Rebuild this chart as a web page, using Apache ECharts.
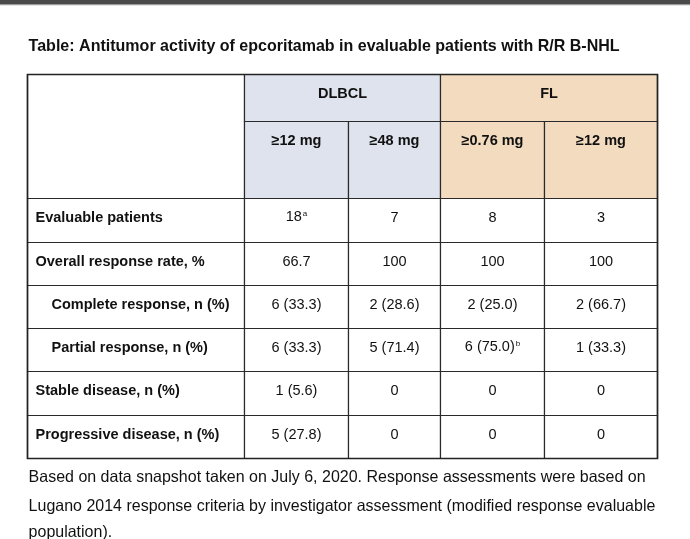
<!DOCTYPE html>
<html>
<head>
<meta charset="utf-8">
<script src="https://cdn.jsdelivr.net/npm/echarts@6/dist/echarts.min.js"></script>
<style>html,body{margin:0;padding:0;background:#fff}#c{width:690px;height:539px}</style>
</head>
<body>
<div id="c"></div>
<script>
// ---- data ----
const titleText = 'Table: Antitumor activity of epcoritamab in evaluable patients with R/R B-NHL';
const groupLabels = ['DLBCL', 'FL'];
const doseLabels = ['≥12 mg', '≥48 mg', '≥0.76 mg', '≥12 mg'];
const rowLabels = ['Evaluable patients', 'Overall response rate, %', 'Complete response, n (%)', 'Partial response, n (%)', 'Stable disease, n (%)', 'Progressive disease, n (%)'];
const rowIndented = [false, false, true, true, false, false];
const dlbcl12mg = ['18', '66.7', '6 (33.3)', '6 (33.3)', '1 (5.6)', '5 (27.8)'];
const dlbcl48mg = ['7', '100', '2 (28.6)', '5 (71.4)', '0', '0'];
const fl076mg = ['8', '100', '2 (25.0)', '6 (75.0)', '0', '0'];
const fl12mg = ['3', '100', '2 (66.7)', '1 (33.3)', '0', '0'];
const dlbcl12mgNotes = ['a', '', '', '', '', ''];
const dlbcl48mgNotes = ['', '', '', '', '', ''];
const fl076mgNotes = ['', '', '', 'b', '', ''];
const fl12mgNotes = ['', '', '', '', '', ''];
const footnoteLines = [
  'Based on data snapshot taken on July 6, 2020. Response assessments were based on',
  'Lugano 2014 response criteria by investigator assessment (modified response evaluable',
  'population).'
];

// ---- layout (px units of the table) ----
const colEdges = [0, 217, 320.5, 413, 516.5, 630];
const rowEdges = [0, 47, 123.5, 168, 211, 254, 297, 341, 384];
const groupFill = ['#dfe3ed', '#f3dbbf'];
const FONT = '"Liberation Sans", Arial, sans-serif';

const valueCols = [dlbcl12mg, dlbcl48mg, fl076mg, fl12mg];
const noteCols = [dlbcl12mgNotes, dlbcl48mgNotes, fl076mgNotes, fl12mgNotes];

// cells: [c0, c1, r0, r1, kind, text, note, group]
const cells = [];
cells.push([0, 1, 0, 2, 'blank', '', '', -1]);
groupLabels.forEach((g, i) => cells.push([1 + 2 * i, 3 + 2 * i, 0, 1, 'head', g, '', i]));
doseLabels.forEach((d, i) => cells.push([1 + i, 2 + i, 1, 2, 'head', d, '', i < 2 ? 0 : 1]));
rowLabels.forEach((lab, r) => {
  cells.push([0, 1, 2 + r, 3 + r, rowIndented[r] ? 'labelIndent' : 'label', lab, '', -1]);
  valueCols.forEach((col, c) => cells.push([1 + c, 2 + c, 2 + r, 3 + r, 'value', col[r], noteCols[c][r], -1]));
});

function fitScale(str, font, target) {
  const ctx = document.createElement('canvas').getContext('2d');
  ctx.font = font;
  return target / ctx.measureText(str).width;
}
const titleFont = 'bold 16.5px ' + FONT;
const footFont = '16.5px ' + FONT;
const titleScale = fitScale(titleText, titleFont, 591);
const footScale = fitScale(footnoteLines[0], footFont, 617);

const chart = echarts.init(document.getElementById('c'), null, {renderer: 'canvas'});
chart.setOption({
  backgroundColor: '#ffffff',
  animation: false,
  grid: {left: 27.3, top: 74, width: 630, height: 384},
  xAxis: {type: 'value', min: 0, max: 630, show: false},
  yAxis: {type: 'value', min: 0, max: 384, inverse: true, show: false},
  graphic: [
    {type: 'rect', shape: {x: 0, y: 0, width: 690, height: 4}, style: {fill: '#4a4a4a'}},
    {type: 'rect', shape: {x: 0, y: 4, width: 690, height: 1.2}, style: {fill: '#9a9a9a'}},
    {type: 'text', x: 28.6, y: 46.7, scaleX: titleScale,
      style: {text: titleText, font: titleFont, fill: '#111', verticalAlign: 'middle'}},
    ...footnoteLines.map((t, i) => ({type: 'text', x: 28.6, y: [477, 506, 532][i], scaleX: footScale,
      style: {text: t, font: footFont, fill: '#111', verticalAlign: 'middle'}}))
  ],
  series: [{
    type: 'custom',
    coordinateSystem: 'cartesian2d',
    data: cells.map(c => ({value: [colEdges[c[0]], rowEdges[c[2]], colEdges[c[1]], rowEdges[c[3]]], cell: c})),
    renderItem: function (params, api) {
      const c = cells[params.dataIndex];
      const p0 = api.coord([api.value(0), api.value(1)]);
      const p1 = api.coord([api.value(2), api.value(3)]);
      const x0 = Math.round(p0[0]) + 0.5, y0 = Math.round(p0[1]) + 0.5;
      const x1 = Math.round(p1[0]) + 0.5, y1 = Math.round(p1[1]) + 0.5;
      const kind = c[4];
      const children = [{
        type: 'rect',
        shape: {x: x0, y: y0, width: x1 - x0, height: y1 - y0},
        style: {fill: c[7] >= 0 ? groupFill[c[7]] : '#ffffff', stroke: '#2a2a2a', lineWidth: 1.2}
      }];
      if (c[5]) {
        const ty = y0 + 19;
        let tx, align;
        if (kind === 'label') { tx = x0 + 8; align = 'left'; }
        else if (kind === 'labelIndent') { tx = x0 + 24; align = 'left'; }
        else { tx = (x0 + x1) / 2; align = 'center'; }
        const bold = kind !== 'value';
        const style = {
          x: tx, y: ty, align: align, verticalAlign: 'middle', fill: '#111',
          font: (bold ? 'bold ' : '') + '14.5px ' + FONT
        };
        if (c[6]) {
          style.text = '{m|' + c[5] + '}{s|' + c[6] + '}';
          style.rich = {
            m: {fontSize: 14.5, fontFamily: FONT, fill: '#111', lineHeight: 17, verticalAlign: 'top'},
            s: {fontSize: 8, fontFamily: FONT, fill: '#111', lineHeight: 17, verticalAlign: 'top', padding: [1, 0, 0, 1]}
          };
        } else {
          style.text = c[5];
        }
        children.push({type: 'text', style: style});
      }
      return {type: 'group', children: children};
    },
    z: 2
  }, {
    type: 'custom',
    coordinateSystem: 'cartesian2d',
    data: [[colEdges[0], rowEdges[0], colEdges[colEdges.length - 1], rowEdges[rowEdges.length - 1]]],
    renderItem: function (params, api) {
      const p0 = api.coord([api.value(0), api.value(1)]);
      const p1 = api.coord([api.value(2), api.value(3)]);
      const x0 = Math.round(p0[0]) + 0.5, y0 = Math.round(p0[1]) + 0.5;
      const x1 = Math.round(p1[0]) + 0.5, y1 = Math.round(p1[1]) + 0.5;
      return {type: 'rect', shape: {x: x0, y: y0, width: x1 - x0, height: y1 - y0},
        style: {fill: 'none', stroke: '#222', lineWidth: 1.6}};
    },
    z: 3, silent: true
  }]
});
</script>
</body>
</html>
